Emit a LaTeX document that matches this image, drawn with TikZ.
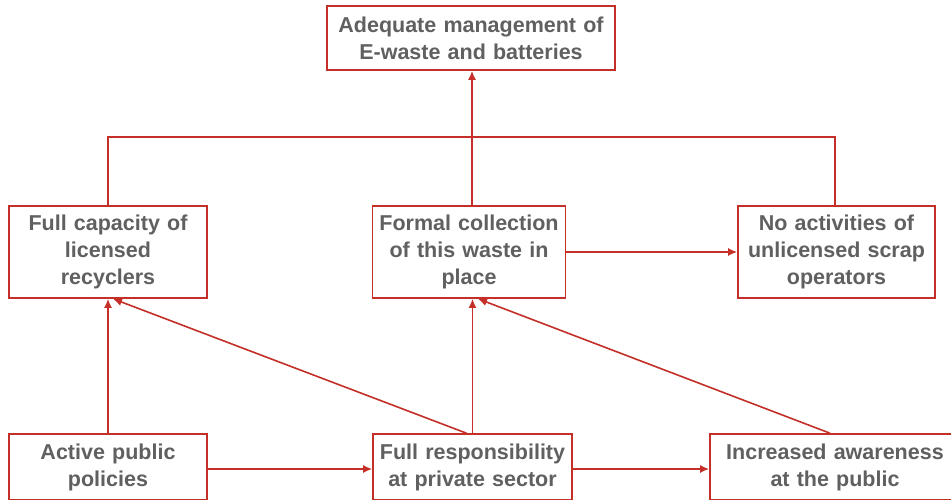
\documentclass[tikz,border=0pt]{standalone}
\usepackage{fontspec}
\setmainfont{Liberation Sans}
\usetikzlibrary{arrows.meta}
\definecolor{boxred}{RGB}{196,48,40}
\definecolor{txtgray}{RGB}{96,96,96}

\begin{document}
\begin{tikzpicture}[x=1pt,y=-1pt,
        goal/.style={draw=boxred,line width=1.6pt,fill=white,align=center,inner sep=0pt,
          font=\fontsize{21.5}{27}\selectfont\bfseries,text=txtgray},
        link/.style={draw=boxred,line width=1.6pt},
        arr/.style={link,-{Latex[length=9pt,width=8pt]}}]
        \clip (0,0) rectangle (951,499);
        \fill[white] (0,0) rectangle (951,499);
        \node[goal,minimum width=288pt,minimum height=64pt,text width=286pt] (top) at (471,38) {Adequate management of\\E-waste and batteries};
        \node[goal,minimum width=198pt,minimum height=92pt,text width=194pt] (cap) at (108,252) {Full capacity of\\licensed\\recyclers};
        \node[goal,minimum width=193pt,minimum height=92pt,text width=190pt] (formal) at (469,252) {Formal collection\\of this waste in\\place};
        \node[goal,minimum width=197pt,minimum height=92pt,text width=194pt] (noact) at (836.5,252) {No activities of\\unlicensed scrap\\operators};
        \node[goal,minimum width=198pt,minimum height=66pt,text width=194pt] (policy) at (108,467) {Active public\\policies};
        \node[goal,minimum width=199pt,minimum height=66pt,text width=197pt] (resp) at (472.5,467) {Full responsibility\\at private sector};
        \node[goal,minimum width=250pt,minimum height=66pt,text width=240pt] (aware) at (835,467) {Increased awareness\\at the public};
        \coordinate (join) at (472,137);
        % upper part
        \draw[arr] (formal.north -| join) -- (top.south -| join);
        \draw[link] (cap.north) |- (join);
        \draw[link] (noact.north -| aware.north) |- (join);
        \draw[arr] (formal.east) -- (noact.west);
        % lower part
        \draw[arr] (policy.north) -- (cap.south);
        \draw[arr] ([xshift=-6pt]resp.north) -- ([xshift=5pt]cap.south);
        \draw[arr] (resp.north) -- (resp.north |- formal.south);
        \draw[arr] ([xshift=-5pt]aware.north) -- ([xshift=9pt]formal.south);
        \draw[arr] ([yshift=-2pt]policy.east) -- ([yshift=-2pt]resp.west);
        \draw[arr] ([yshift=-2pt]resp.east) -- ([yshift=-2pt]aware.west);
\end{tikzpicture}
\end{document}
